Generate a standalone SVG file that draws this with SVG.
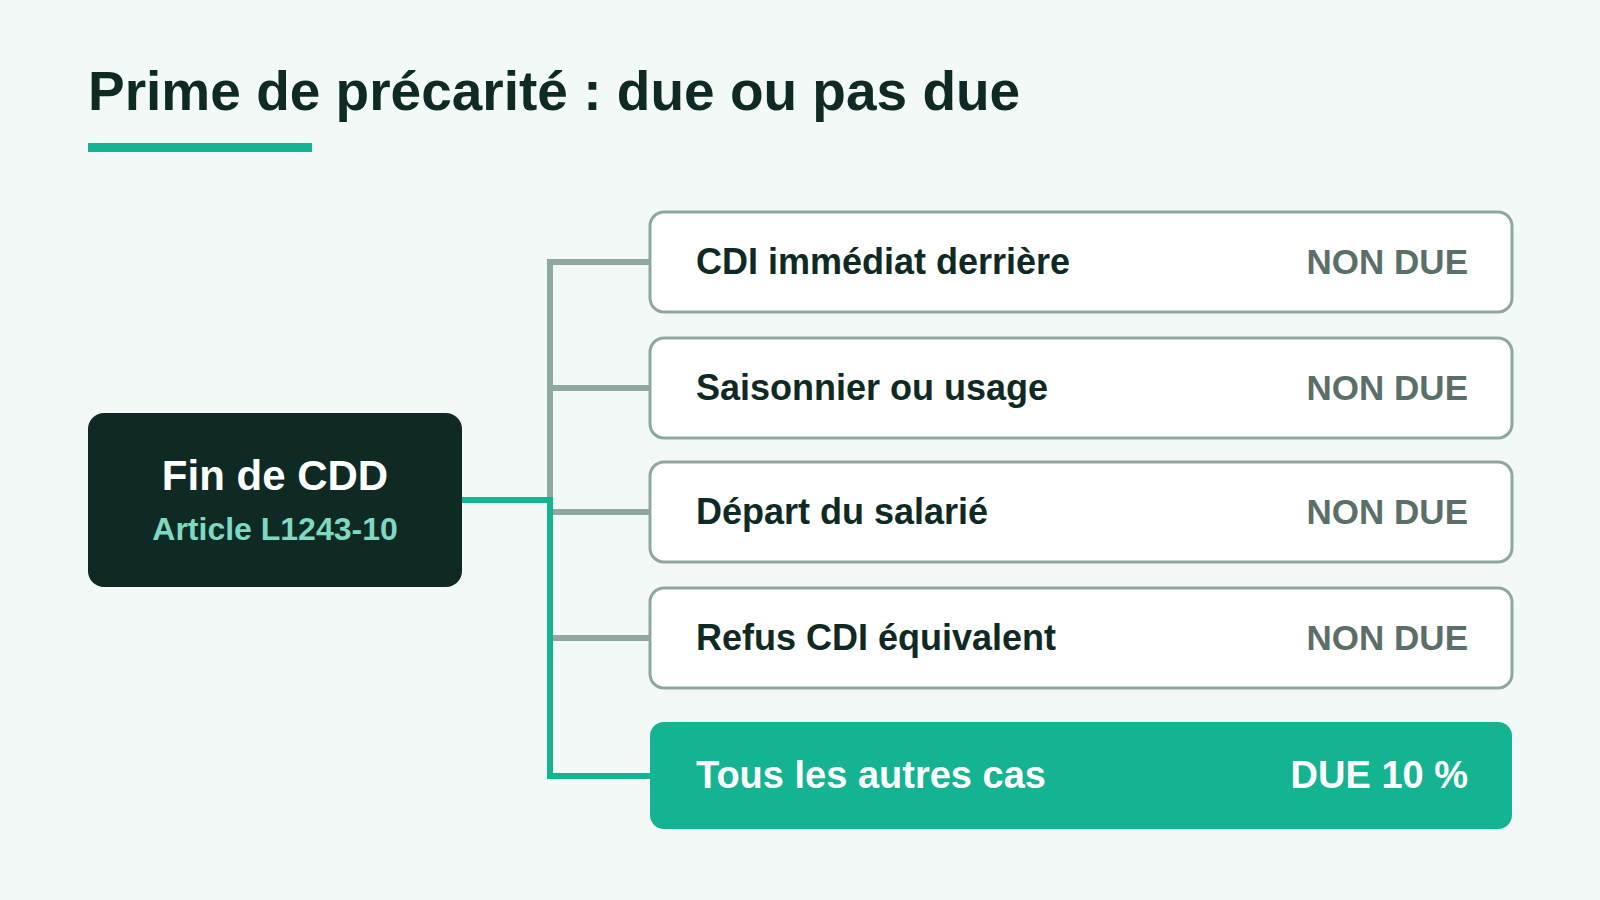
<svg xmlns="http://www.w3.org/2000/svg" width="1600" height="900" viewBox="0 0 1600 900">
<style>
text{font-family:"Liberation Sans",Arial,sans-serif;font-weight:bold}
.box{fill:#fff;stroke:#8fa89f;stroke-width:3}
.lbl{font-size:36px;fill:#0f2a24}
.st{font-size:35px;fill:#5b6f69;text-anchor:end}
.g{stroke:#8fa89f;stroke-width:6;fill:none}
.t{stroke:#14b391;stroke-width:6;fill:none}
</style>
<rect width="1600" height="900" fill="#f3f9f7"/>
<text x="88" y="110" font-size="55" fill="#0f2a24">Prime de précarité : due ou pas due</text>
<rect x="88" y="143" width="224" height="9" fill="#14b391"/>
<g id="connectors">
<path class="g" d="M650 262H550V500M550 388H650M550 512H650M550 638H650"/>
<path class="t" d="M462 500H550V776H650"/>
</g>
<g id="root"><rect x="88" y="413" width="374" height="174" rx="16" fill="#0f2a24"/>
<text x="275" y="490" font-size="42" fill="#fff" text-anchor="middle">Fin de CDD</text>
<text x="275" y="540" font-size="32" fill="#7fd8c0" text-anchor="middle">Article L1243-10</text></g>
<g id="n1"><rect class="box" x="650" y="212" width="862" height="100" rx="14"/><text class="lbl" x="696" y="274">CDI immédiat derrière</text><text class="st" x="1468" y="274">NON DUE</text></g>
<g id="n2"><rect class="box" x="650" y="338" width="862" height="100" rx="14"/><text class="lbl" x="696" y="400">Saisonnier ou usage</text><text class="st" x="1468" y="400">NON DUE</text></g>
<g id="n3"><rect class="box" x="650" y="462" width="862" height="100" rx="14"/><text class="lbl" x="696" y="524">Départ du salarié</text><text class="st" x="1468" y="524">NON DUE</text></g>
<g id="n4"><rect class="box" x="650" y="588" width="862" height="100" rx="14"/><text class="lbl" x="696" y="650">Refus CDI équivalent</text><text class="st" x="1468" y="650">NON DUE</text></g>
<g id="n5"><rect x="650" y="722" width="862" height="107" rx="14" fill="#14b391"/><text x="696" y="788" font-size="38" fill="#fff">Tous les autres cas</text><text x="1468" y="788" font-size="38" fill="#fff" text-anchor="end">DUE 10 %</text></g>
</svg>
